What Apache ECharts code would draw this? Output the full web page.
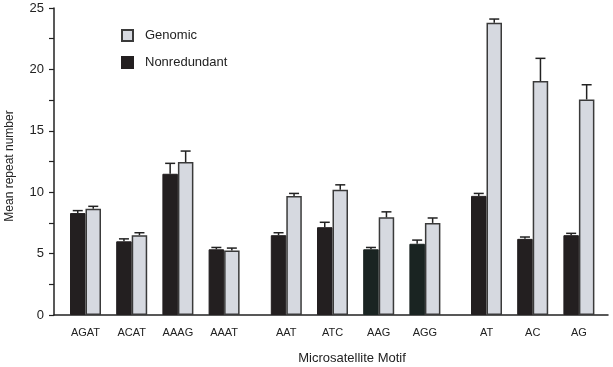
<!DOCTYPE html>
<html>
<head>
<meta charset="utf-8">
<script src="https://cdn.jsdelivr.net/npm/echarts@6/dist/echarts.min.js"></script>
<style>html,body{margin:0;padding:0;background:#fff;}#c{width:613px;height:367px;}</style>
</head>
<body>
<div id="c"></div>
<script>
var categories = ['AGAT','ACAT','AAAG','AAAT','AAT','ATC','AAG','AGG','AT','AC','AG'];
var groupSizes = [4, 4, 3];
var nonredundant = [8.3, 6.0, 11.5, 5.35, 6.5, 7.15, 5.35, 5.8, 9.7, 6.2, 6.5];
var genomic = [8.65, 6.5, 12.45, 5.25, 9.7, 10.2, 7.95, 7.5, 23.8, 19.05, 17.55];
var errNonredundant = [0.2, 0.2, 0.85, 0.15, 0.2, 0.4, 0.15, 0.3, 0.2, 0.15, 0.15];
var errGenomic = [0.2, 0.2, 0.9, 0.2, 0.2, 0.4, 0.45, 0.4, 0.3, 1.85, 1.2];
var yTicks = [0, 5, 10, 15, 20, 25];

var FONT = 'Liberation Sans, Arial, sans-serif';
var TOP = 8, BOTTOM = 52;
var slot = 46.2;
var groupLefts = [62.4, 263.2, 463.4];
var barW = 15.5;
var darkGreen = ['AAG', 'AGG'];

var grids = [{left: 54, right: 5, top: TOP, bottom: BOTTOM, outerBoundsMode: 'none', containLabel: false}];
var xAxes = [{
  gridIndex: 0, type: 'category', data: [''],
  axisLine: {show: true, lineStyle: {color: '#222', width: 1.5}},
  axisTick: {show: false}, axisLabel: {show: false}
}];
var yAxes = [{
  gridIndex: 0, type: 'value', min: yTicks[0], max: yTicks[yTicks.length - 1], interval: yTicks[1] - yTicks[0],
  axisLine: {show: true, lineStyle: {color: '#222', width: 1.5}},
  axisTick: {show: true, length: 5, lineStyle: {color: '#222', width: 1.2}},
  minorTick: {show: true, splitNumber: 2, length: 5, lineStyle: {color: '#222', width: 1.2}},
  splitLine: {show: false},
  axisLabel: {fontFamily: FONT, fontSize: 13, color: '#222', margin: 10}
}];
var series = [];

function errRender(sign) {
  return function (params, api) {
    var x = api.value(0), y = api.value(1), e = api.value(2);
    var p1 = api.coord([x, y]);
    var p2 = api.coord([x, y + e]);
    var cx = p1[0] + sign * barW / 2;
    var st = {stroke: '#222', lineWidth: 1.5};
    return {type: 'group', children: [
      {type: 'line', shape: {x1: cx, y1: p1[1], x2: cx, y2: p2[1]}, style: st},
      {type: 'line', shape: {x1: cx - 5, y1: p2[1], x2: cx + 5, y2: p2[1]}, style: st}
    ]};
  };
}

var start = 0;
groupSizes.forEach(function (n, g) {
  var gi = g + 1;
  var cats = categories.slice(start, start + n);
  grids.push({left: groupLefts[g], width: slot * n, top: TOP, bottom: BOTTOM, outerBoundsMode: 'none', containLabel: false});
  xAxes.push({
    gridIndex: gi, type: 'category', data: cats,
    axisLine: {show: false}, axisTick: {show: false},
    axisLabel: {fontFamily: FONT, fontSize: 11, color: '#222', margin: 12}
  });
  yAxes.push({gridIndex: gi, type: 'value', min: yTicks[0], max: yTicks[yTicks.length - 1], show: false});
  var nr = nonredundant.slice(start, start + n).map(function (v, i) {
    var c = darkGreen.indexOf(cats[i]) >= 0 ? '#1a2422' : '#231f20';
    return {value: v, itemStyle: {color: c, borderColor: c}};
  });
  series.push({
    name: 'Nonredundant', type: 'bar', xAxisIndex: gi, yAxisIndex: gi,
    data: nr, barWidth: barW, barGap: '0%',
    itemStyle: {color: '#231f20', borderColor: '#231f20', borderWidth: 1}
  });
  series.push({
    name: 'Genomic', type: 'bar', xAxisIndex: gi, yAxisIndex: gi,
    data: genomic.slice(start, start + n), barWidth: barW, barGap: '0%',
    itemStyle: {color: '#d6d9e0', borderColor: '#3a3a3a', borderWidth: 1.5}
  });
  series.push({
    type: 'custom', xAxisIndex: gi, yAxisIndex: gi, z: 5,
    renderItem: errRender(-1),
    data: nonredundant.slice(start, start + n).map(function (v, i) { return [i, v, errNonredundant[start + i]]; })
  });
  series.push({
    type: 'custom', xAxisIndex: gi, yAxisIndex: gi, z: 5,
    renderItem: errRender(1),
    data: genomic.slice(start, start + n).map(function (v, i) { return [i, v, errGenomic[start + i]]; })
  });
  start += n;
});

var chart = echarts.init(document.getElementById('c'), null, {renderer: 'canvas'});
chart.setOption({
  animation: false,
  backgroundColor: '#fff',
  legend: {
    data: ['Genomic', 'Nonredundant'], orient: 'vertical', left: 121, top: 29, padding: 0,
    itemWidth: 11, itemHeight: 11, itemGap: 14, icon: 'rect',
    textStyle: {fontFamily: FONT, fontSize: 13, color: '#222', padding: [0, 0, 0, 7]}
  },
  graphic: [{
    type: 'text', x: 352, y: 358,
    style: {text: 'Microsatellite Motif', fontFamily: FONT, fontSize: 13, fill: '#222',
            textAlign: 'center', textVerticalAlign: 'middle'}
  }, {
    type: 'text', x: 10, y: 166, rotation: Math.PI / 2,
    style: {text: 'Mean repeat number', fontFamily: FONT, fontSize: 12, fill: '#222',
            textAlign: 'center', textVerticalAlign: 'middle'}
  }],
  grid: grids, xAxis: xAxes, yAxis: yAxes, series: series
});
</script>
</body>
</html>
